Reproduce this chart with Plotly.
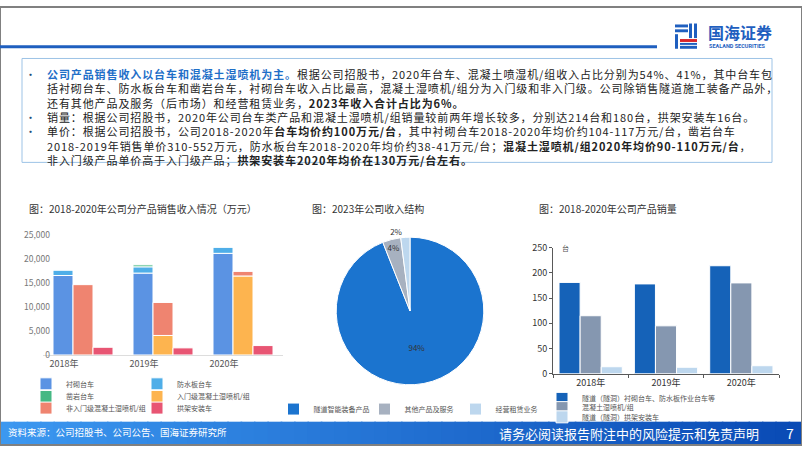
import plotly.graph_objects as go
import numpy as np

W, H = 802, 451
def X(p): return p / W
def Y(p): return 1 - p / H

# ---------------- data ----------------
years = ["2018年", "2019年", "2020年"]
# 图：2018-2020年公司分产品销售收入情况（万元）
lining = [16500, 17000, 21100]        # 衬砌台车
waterproof = [1150, 1300, 1300]       # 防水板台车
rock = [0, 400, 0]                    # 凿岩台车
entry = [0, 4050, 16400]              # 入门级混凝土湿喷机/组
nonentry = [14600, 6850, 950]         # 非入门级混凝土湿喷机/组
arch = [1600, 1470, 1950]             # 拱架安装车
rev_ticks = [0, 5000, 10000, 15000, 20000, 25000]

# 图：2023年公司收入结构
pie_labels = ["隧道智能装备产品", "其他产品及服务", "经营租赁业务"]
pie_values = [94, 4, 2]

# 图：2018-2020年公司产品销量（台）
vol_trolley = [181, 178, 214]
vol_spray = [115, 95, 180]
vol_arch = [14, 13, 16]
vol_ticks = [0, 50, 100, 150, 200, 250]

FONT = "Noto Sans CJK SC"

fig = go.Figure()

def add_bar(x, y, name, color, offset, width, base=None, xa="x", ya="y", legend="legend", lw=None):
    fig.add_trace(go.Bar(
        x=x, y=y, base=base, name=name, offset=offset, width=width,
        marker=dict(color=color, line=dict(color="white", width=1)),
        xaxis=xa, yaxis=ya, legend=legend, legendwidth=lw, hoverinfo="skip"))

lining_a = np.array(lining)
wp_a = np.array(waterproof)
add_bar(years, lining, "衬砌台车", "#5B93E3", -0.375, 0.25, legend="legend", lw=66)
add_bar(years, waterproof, "防水板台车", "#4FAEE8", -0.375, 0.25, base=lining_a.tolist(), legend="legend", lw=100)
add_bar(years, rock, "凿岩台车", "#45B883", -0.375, 0.25, base=(lining_a + wp_a).tolist(), legend="legend2", lw=66)
add_bar(years, entry, "入门级混凝土湿喷机/组", "#FDB44F", -0.125, 0.25, legend="legend2", lw=100)
add_bar(years, nonentry, "非入门级混凝土湿喷机/组", "#EF8470", -0.125, 0.25, base=entry, legend="legend3", lw=66)
add_bar(years, arch, "拱架安装车", "#E85573", 0.125, 0.25, legend="legend3", lw=100)

# pie
fig.add_trace(go.Pie(
    labels=pie_labels, values=pie_values, sort=False, direction="clockwise", rotation=0,
    marker=dict(colors=["#1B74CF", "#A7B1C0", "#BDD7EE"], line=dict(color="white", width=1)),
    texttemplate="%{value}%", textposition=["inside", "inside", "outside"],
    insidetextorientation="horizontal",
    textfont=dict(size=8, color="#333333", family=FONT),
    domain=dict(x=[X(334), X(486)], y=[Y(389), Y(237)]),
    legend="legend4", hoverinfo="skip"))

# right chart
add_bar(years, vol_trolley, "隧道（隧洞）衬砌台车、防水板作业台车等", "#1562B8", -0.42, 0.28, xa="x2", ya="y2", legend="legend5")
add_bar(years, vol_spray, "混凝土湿喷机/组", "#8597B0", -0.14, 0.28, xa="x2", ya="y2", legend="legend6")
add_bar(years, vol_arch, "隧道（隧洞）拱架安装车", "#BDD7EE", 0.14, 0.28, xa="x2", ya="y2", legend="legend7")

YOFF = 4
def hleg(x, y, size=7, anchor="left"):
    return dict(orientation="h", x=X(x), y=Y(y + YOFF), xanchor=anchor, yanchor="middle",
                bgcolor="rgba(0,0,0,0)", font=dict(size=size, color="#555555", family=FONT),
                itemwidth=30, tracegroupgap=0, traceorder="normal")

shapes = []
annotations = []

# slide frame
shapes.append(dict(type="rect", xref="paper", yref="paper", x0=0, x1=1, y0=0, y1=1,
                   line=dict(color="#808080", width=2), layer="above"))
# header line
shapes.append(dict(type="line", xref="paper", yref="paper", x0=0, x1=X(657), y0=Y(41), y1=Y(41),
                   line=dict(color="#1F5FBF", width=3)))
# logo icon (decorative)
def prect(x0, y0, x1, y1, color):
    shapes.append(dict(type="rect", xref="paper", yref="paper", x0=X(x0), x1=X(x1), y0=Y(y1), y1=Y(y0),
                       line=dict(width=0), fillcolor=color))
prect(675, 18, 688, 21, "#1F5FBF")
prect(675, 23, 688, 26, "#1F5FBF")
prect(689, 17, 692, 32, "#1F5FBF")
prect(694, 17, 697, 32, "#1F5FBF")
prect(675, 28, 678, 43, "#1F5FBF")
prect(680, 33, 697, 36, "#D9252A")
prect(680, 37, 697, 39, "#1F5FBF")
prect(680, 40, 697, 43, "#1F5FBF")
annotations.append(dict(text="<b>国海证券</b>", x=X(706), y=Y(26), xref="paper", yref="paper",
                        xanchor="left", yanchor="middle", showarrow=False,
                        font=dict(size=16, color="#1F5FBF", family=FONT)))
annotations.append(dict(text="<b>SEALAND SECURITIES</b>", x=X(707), y=Y(40), xref="paper", yref="paper",
                        xanchor="left", yanchor="middle", showarrow=False,
                        font=dict(size=5.5, color="#1F5FBF", family="Roboto")))

# text box
shapes.append(dict(type="rect", xref="paper", yref="paper", x0=X(22), x1=X(772), y0=Y(160), y1=Y(53),
                   line=dict(color="#9DC3E6", width=1), fillcolor="rgba(0,0,0,0)"))
BLUE = "#1F6FC8"
lines = [
    (True, f"<span style='color:{BLUE}'><b>公司产品销售收入以台车和混凝土湿喷机为主。</b></span>根据公司招股书，2020年台车、混凝土喷湿机/组收入占比分别为54%、41%，其中台车包"),
    (False, "括衬砌台车、防水板台车和凿岩台车，衬砌台车收入占比最高，混凝土湿喷机/组分为入门级和非入门级。公司除销售隧道施工装备产品外，"),
    (False, "还有其他产品及服务（后市场）和经营租赁业务，<b>2023年收入合计占比为6%。</b>"),
    (True, "销量：根据公司招股书，2020年公司台车类产品和混凝土湿喷机/组销量较前两年增长较多，分别达214台和180台，拱架安装车16台。"),
    (True, "单价：根据公司招股书，公司2018-2020年<b>台车均价约100万元/台</b>，其中衬砌台车2018-2020年均价约104-117万元/台，凿岩台车"),
    (False, "2018-2019年销售单价310-552万元，防水板台车2018-2020年均价约38-41万元/台；<b>混凝土湿喷机/组2020年均价90-110万元/台</b>，"),
    (False, "非入门级产品单价高于入门级产品；<b>拱架安装车2020年均价在130万元/台左右。</b>"),
]
body = "<br>".join(f"<span style='letter-spacing:0.9px'>{t}</span>" for _, t in lines)
bullets = "<br>".join("•" if b else "&nbsp;" for b, _ in lines)
TOP = 58.5
annotations.append(dict(text=body, x=X(45), y=Y(TOP), xref="paper", yref="paper", align="left",
                        xanchor="left", yanchor="top", showarrow=False,
                        font=dict(size=11, color="#222222", family=FONT)))
annotations.append(dict(text=bullets, x=X(30), y=Y(TOP), xref="paper", yref="paper", align="center",
                        xanchor="center", yanchor="top", showarrow=False,
                        font=dict(size=11, color="#1F4E79", family=FONT)))

# chart titles
for tx, px, py in [("图：2018-2020年公司分产品销售收入情况（万元）", 27, 207),
                   ("图：2023年公司收入结构", 310, 207),
                   ("图：2018-2020年公司产品销量", 537, 207)]:
    annotations.append(dict(text=tx, x=X(px), y=Y(py), xref="paper", yref="paper",
                            xanchor="left", yanchor="middle", showarrow=False,
                            font=dict(size=10, color="#333333", family=FONT)))
# unit label on right chart
annotations.append(dict(text="台", x=X(560), y=Y(248), xref="paper", yref="paper",
                        xanchor="left", yanchor="middle", showarrow=False,
                        font=dict(size=7, color="#555555", family=FONT)))

# footer gradient
n = 60
c0 = np.array([0x3C, 0x98, 0xF0])
c1 = np.array([0x0A, 0x4B, 0xB5])
for i in range(n):
    t = i / (n - 1)
    c = (c0 * (1 - t) + c1 * t).astype(int)
    shapes.append(dict(type="rect", xref="paper", yref="paper",
                       x0=i / n, x1=(i + 1) / n + 0.002, y0=0, y1=Y(427),
                       line=dict(width=0), fillcolor=f"rgb({c[0]},{c[1]},{c[2]})", layer="below"))
annotations.append(dict(text="资料来源：公司招股书、公司公告、国海证券研究所", x=X(6), y=Y(438), xref="paper", yref="paper",
                        xanchor="left", yanchor="middle", showarrow=False,
                        font=dict(size=9.5, color="white", family=FONT)))
annotations.append(dict(text="请务必阅读报告附注中的风险提示和免责声明", x=X(761), y=Y(439), xref="paper", yref="paper",
                        xanchor="right", yanchor="middle", showarrow=False,
                        font=dict(size=13, color="white", family=FONT)))
annotations.append(dict(text="7", x=X(790), y=Y(439), xref="paper", yref="paper",
                        xanchor="center", yanchor="middle", showarrow=False,
                        font=dict(size=14, color="white", family=FONT)))

leg4 = hleg(410, 410, size=7, anchor="center")
leg4["entrywidth"] = 46
leg4["entrywidthmode"] = "pixels"

fig.update_layout(
    width=W, height=H, margin=dict(l=0, r=0, t=0, b=0),
    paper_bgcolor="white", plot_bgcolor="white",
    barmode="overlay", showlegend=True,
    font=dict(family=FONT),
    xaxis=dict(domain=[X(43), X(283)], anchor="y", type="category", range=[-0.5, 2.5],
               showline=True, linecolor="#DDDDDD", ticks="", showgrid=False,
               tickfont=dict(size=9, color="#555555"), ticklabelshift=-19, fixedrange=True),
    yaxis=dict(domain=[Y(358.3), Y(234.3)], range=[0, 25000], anchor="free", position=X(50),
               tickvals=rev_ticks, tickformat=",", showgrid=False, zeroline=False, showline=False,
               tickfont=dict(size=8.5, color="#777777"), fixedrange=True),
    xaxis2=dict(domain=[X(553), X(779)], anchor="y2", type="category", range=[-0.5, 2.5],
                showline=True, linecolor="#595959", ticks="outside", ticklen=3, tickson="boundaries",
                tickcolor="#595959", showgrid=False, tickfont=dict(size=9, color="#333333"), fixedrange=True),
    yaxis2=dict(domain=[Y(377.7), Y(247.7)], anchor="x2", range=[0, 250], tickvals=vol_ticks,
                showline=True, linecolor="#595959", ticks="outside", ticklen=3, tickcolor="#595959",
                showgrid=False, zeroline=False, tickfont=dict(size=9, color="#333333"), fixedrange=True),
    legend=hleg(26, 384),
    legend2=hleg(26, 397),
    legend3=hleg(26, 409),
    legend4=leg4,
    legend5=hleg(542, 399),
    legend6=hleg(542, 408.5),
    legend7=hleg(542, 418),
    shapes=shapes, annotations=annotations,
)

fig.write_html("out.html")
